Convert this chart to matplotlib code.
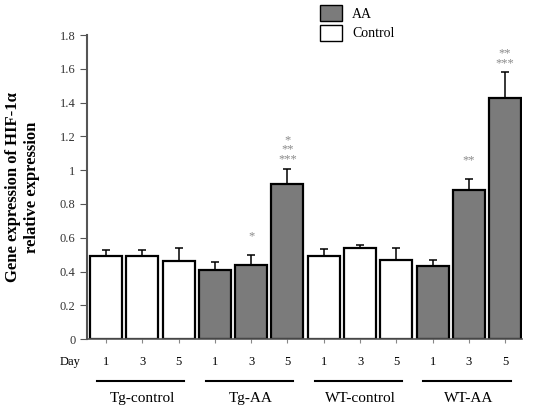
import numpy as np
import matplotlib
matplotlib.use("Agg")
import matplotlib.pyplot as plt
import matplotlib.transforms as mtransforms
from matplotlib.patches import Patch

plt.rcParams["font.family"] = ["Liberation Serif", "DejaVu Serif"]

GROUPS = ["Tg-control", "Tg-AA", "WT-control", "WT-AA"]
DAYS = ["1", "3", "5"]
VALUES = [0.49, 0.49, 0.46, 0.41, 0.44, 0.92, 0.49, 0.54, 0.47, 0.43, 0.88, 1.43]
ERRORS = [0.035, 0.035, 0.077, 0.045, 0.06, 0.088, 0.044, 0.018, 0.067, 0.04, 0.068, 0.15]
IS_AA = [False, False, False, True, True, True, False, False, False, True, True, True]
STARS = {4: ["*"], 5: ["*", "**", "***"], 10: ["**"], 11: ["**", "***"]}

GRAY = "#7b7b7b"

fig = plt.figure(figsize=(5.35, 4.08), dpi=100)
ax = fig.add_axes([0.163, 0.169, 0.813, 0.745])

x = np.arange(len(VALUES))
colors = [GRAY if a else "white" for a in IS_AA]
ax.bar(x, VALUES, width=0.88, color=colors, edgecolor="black", linewidth=1.6, zorder=2)
ax.errorbar(x, VALUES, yerr=[np.zeros(len(ERRORS)), ERRORS], fmt="none",
            ecolor="black", elinewidth=1.1, capsize=3, capthick=1.1, zorder=1)

# significance marks, one stacked text block above each error bar
for i, marks in STARS.items():
    gap = 0.075 if len(marks) == 1 else 0.02
    ax.text(x[i], VALUES[i] + ERRORS[i] + gap, "\n".join(marks), ha="center", va="bottom",
            fontsize=9, color="#8a8a8a", linespacing=0.75)

ax.set_xlim(-0.52, 11.47)
ax.set_ylim(0, 1.8)
ax.set_yticks(np.arange(0, 1.81, 0.2))
ax.set_yticklabels(["0", "0.2", "0.4", "0.6", "0.8", "1", "1.2", "1.4", "1.6", "1.8"])
ax.set_xticks(x)
ax.set_xticklabels([])
ax.tick_params(axis="y", labelsize=9, direction="out", length=5, color="#555555", labelcolor="#333333")
ax.tick_params(axis="x", direction="out", length=3, color="#888888")
for s in ["top", "right"]:
    ax.spines[s].set_visible(False)
ax.spines["left"].set_color("#555555")
ax.spines["left"].set_linewidth(1.5)
ax.spines["bottom"].set_color("#555555")
ax.spines["bottom"].set_linewidth(1.2)

ax.set_ylabel("Gene expression of HIF-1α\nrelative expression", fontsize=12,
              fontweight="bold", labelpad=14, linespacing=1.3)

# day labels and group lines under the axis
trans = mtransforms.blended_transform_factory(ax.transData, ax.transAxes)
ax.text(-1.0, -0.075, "Day", transform=trans, ha="center", va="center", fontsize=9)
for i in x:
    ax.text(i, -0.075, DAYS[i % 3], transform=trans, ha="center", va="center", fontsize=9)
for g, name in enumerate(GROUPS):
    c = g * 3 + 1
    ax.plot([c - 1.25, c + 1.15], [-0.137, -0.137], transform=trans, color="black",
            linewidth=1.5, clip_on=False)
    ax.text(c, -0.195, name, transform=trans, ha="center", va="center", fontsize=11)

handles = [Patch(facecolor=GRAY, edgecolor="black", label="AA"),
           Patch(facecolor="white", edgecolor="black", label="Control")]
fig.legend(handles=handles, loc="upper left", bbox_to_anchor=(0.575, 1.018), frameon=False,
           fontsize=10, handlelength=1.6, handleheight=1.4, labelspacing=0.25, handletextpad=0.7)

fig.savefig("out.png", dpi=100)
